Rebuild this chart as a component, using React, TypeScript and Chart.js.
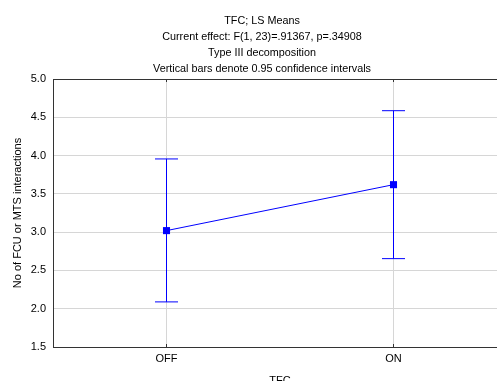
import { useEffect, useRef } from 'react';
import { Chart, registerables } from 'chart.js';

Chart.register(...registerables);

const categories = ['OFF', 'ON'];
const means = [3.02, 3.62];
const upperCI = [3.956, 4.586];
const lowerCI = [2.089, 2.654];
const yMin = 1.5;
const yMax = 5.0;
const yStep = 0.5;
const titleLines = [
  'TFC; LS Means',
  'Current effect: F(1, 23)=.91367, p=.34908',
  'Type III decomposition',
  'Vertical bars denote 0.95 confidence intervals',
];
const xTitle = 'TFC';
const yTitle = 'No of FCU or MTS interactions';

const FONT = "'Liberation Sans', Arial, sans-serif";
const BLUE = '#0000ff';
const DARK = '#333333';
const GRID = '#d6d6d6';

const align = (p: number) => Math.round(p - 0.5) + 0.5;

const errorBars = {
  id: 'errorBars',
  beforeDatasetsDraw(chart: any) {
    const { ctx, scales } = chart;
    const x = scales.x;
    const y = scales.y;
    ctx.save();
    ctx.strokeStyle = BLUE;
    ctx.lineWidth = 1;
    categories.forEach((_, i) => {
      const px = align(x.getPixelForValue(i));
      const yt = y.getPixelForValue(upperCI[i]);
      const yb = y.getPixelForValue(lowerCI[i]);
      ctx.beginPath();
      ctx.moveTo(px, yt);
      ctx.lineTo(px, yb);
      ctx.moveTo(px - 11.5, yt);
      ctx.lineTo(px + 11.5, yt);
      ctx.moveTo(px - 11.5, yb);
      ctx.lineTo(px + 11.5, yb);
      ctx.stroke();
    });
    ctx.restore();
  },
  afterDraw(chart: any) {
    const { ctx, scales, chartArea } = chart;
    const x = scales.x;
    ctx.save();
    ctx.strokeStyle = DARK;
    ctx.lineWidth = 1;
    categories.forEach((_, i) => {
      const px = align(x.getPixelForValue(i));
      ctx.beginPath();
      ctx.moveTo(px, chartArea.bottom);
      ctx.lineTo(px, chartArea.bottom - 3);
      ctx.moveTo(px, chartArea.top);
      ctx.lineTo(px, chartArea.top + 3);
      ctx.stroke();
    });
    ctx.restore();
  },
};

export default function App() {
  const ref = useRef<HTMLCanvasElement>(null);
  useEffect(() => {
    if (!ref.current) return;
    const chart = new Chart(ref.current, {
      type: 'line',
      data: {
        labels: categories,
        datasets: [
          {
            data: means,
            borderColor: BLUE,
            backgroundColor: BLUE,
            borderWidth: 1,
            pointStyle: 'rect',
            pointRadius: 5,
            pointBorderWidth: 0,
            pointBackgroundColor: BLUE,
            tension: 0,
          },
        ],
      },
      options: {
        responsive: false,
        animation: false,
        layout: { padding: { left: 0, right: 0, top: 0, bottom: 0 } },
        plugins: {
          legend: { display: false },
          tooltip: { enabled: false },
          title: {
            display: true,
            text: titleLines,
            color: '#000',
            font: { family: FONT, size: 10.8, weight: 'normal', lineHeight: '16px' },
            padding: { top: 13, bottom: 2 },
          },
        },
        scales: {
          x: {
            type: 'category',
            offset: true,
            grid: { color: GRID, drawTicks: false, offset: false },
            border: { display: true, color: DARK },
            ticks: { color: '#000', font: { family: FONT, size: 11 }, padding: 5 },
            title: {
              display: true,
              text: xTitle,
              color: '#000',
              font: { family: FONT, size: 11 },
              padding: 4.4,
            },
            afterFit: (s: any) => {
              s.height = 45;
            },
          },
          y: {
            min: yMin,
            max: yMax,
            grid: {
              drawTicks: false,
              color: (c: any) => (c.tick && c.tick.value === yMax ? DARK : GRID),
            },
            border: { display: true, color: DARK },
            ticks: {
              stepSize: yStep,
              color: '#000',
              font: { family: FONT, size: 11 },
              padding: 7,
              callback: (v: any) => Number(v).toFixed(1),
            },
            title: {
              display: true,
              text: yTitle,
              color: '#000',
              font: { family: FONT, size: 11 },
              padding: 11.4,
            },
            afterFit: (s: any) => {
              s.width = 53;
            },
          },
          yRight: {
            type: 'linear',
            position: 'right',
            min: yMin,
            max: yMax,
            grid: { display: false, drawOnChartArea: false },
            border: { display: false },
            ticks: { display: false },
            afterFit: (s: any) => {
              s.width = 17;
            },
          },
        },
      },
      plugins: [errorBars],
    });
    return () => chart.destroy();
  }, []);
  return (
    <div style={{ position: 'fixed', left: 0, top: 0, width: 524, height: 392, background: '#fff' }}>
      <canvas ref={ref} width={524} height={392} />
    </div>
  );
}
